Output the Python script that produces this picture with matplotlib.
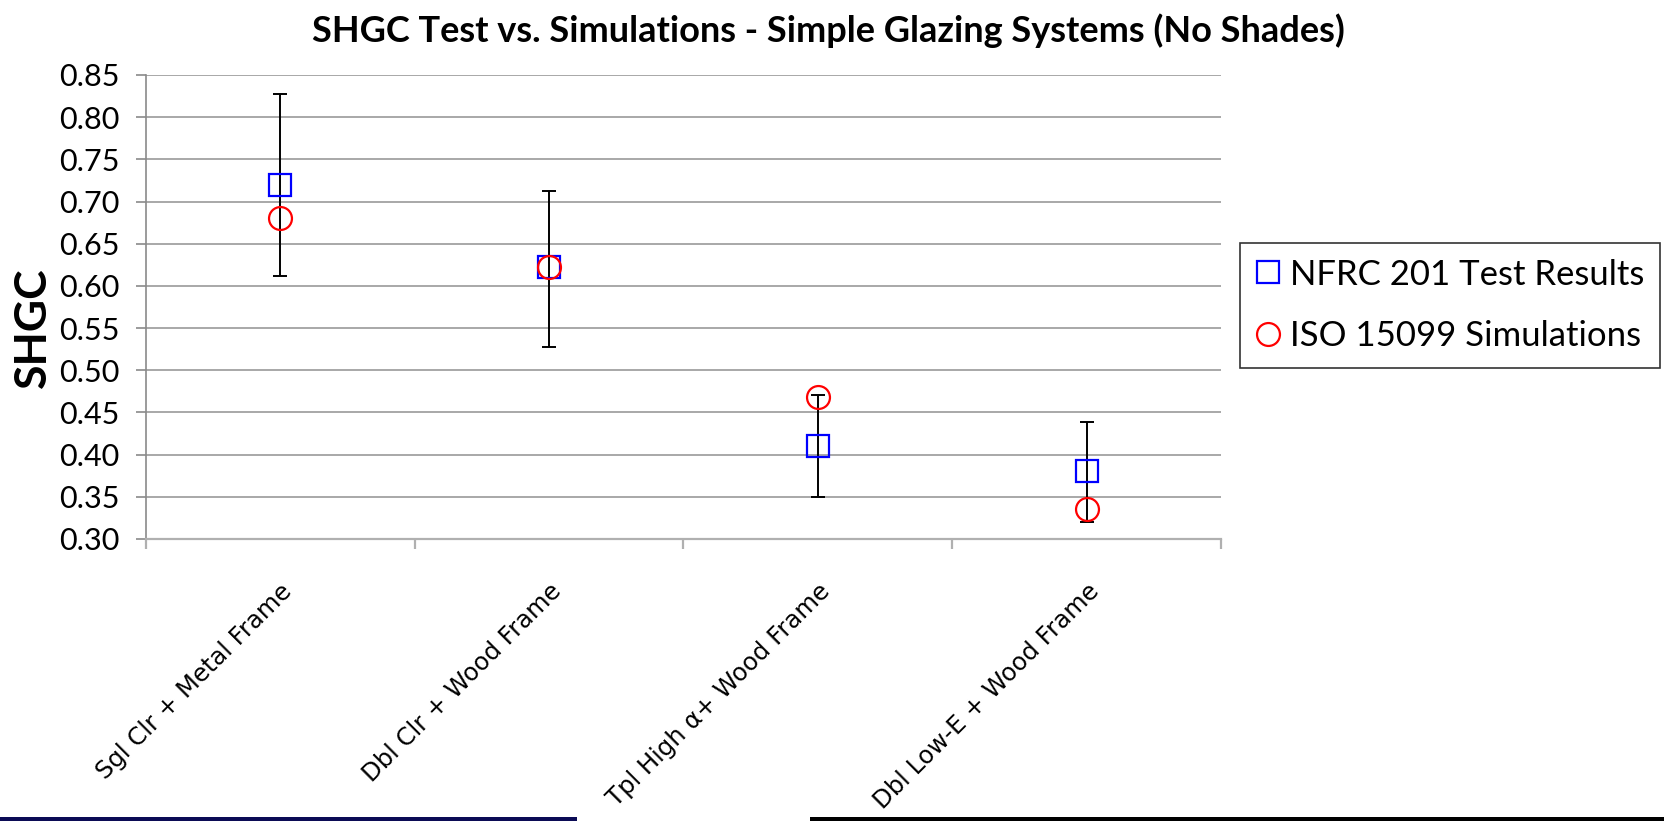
import matplotlib.pyplot as plt
from matplotlib.patches import Rectangle
from matplotlib.ticker import MultipleLocator, FixedLocator

# данные
categories = ["Sgl Clr + Metal Frame", "Dbl Clr + Wood Frame",
              "Tpl High \u03b1+ Wood Frame", "Dbl Low-E + Wood Frame"]
nfrc = [0.720, 0.622, 0.410, 0.381]
nfrc_low = [0.612, 0.527, 0.350, 0.320]
nfrc_high = [0.828, 0.713, 0.471, 0.439]
iso = [0.680, 0.622, 0.468, 0.335]

title = "SHGC Test vs. Simulations - Simple Glazing Systems (No Shades)"
W, H = 1665, 821

fig = plt.figure(figsize=(W / 100, H / 100), dpi=100)
ax = fig.add_axes([145.7 / W, 1 - 539 / H, (1221 - 145.7) / W, (539 - 75) / H])

x = list(range(len(categories)))
yerr = [[v - lo for v, lo in zip(nfrc, nfrc_low)],
        [hi - v for v, hi in zip(nfrc, nfrc_high)]]

ax.errorbar(x, nfrc, yerr=yerr, fmt="none", ecolor="black", elinewidth=1.4,
            capsize=5, capthick=1.4, zorder=3)
ax.plot(x, nfrc, ls="none", marker="s", ms=15.5, mfc="none", mec="#0000ff",
        mew=1.6, label="NFRC 201 Test Results", zorder=4)
ax.plot(x, iso, ls="none", marker="o", ms=16.5, mfc="none", mec="#ff0000",
        mew=1.6, label="ISO 15099 Simulations", zorder=4)

ax.set_xlim(-0.5, len(categories) - 0.5)
ax.set_ylim(0.30, 0.85)
ax.yaxis.set_major_locator(MultipleLocator(0.05))
ax.yaxis.set_major_formatter(plt.FormatStrFormatter("%.2f"))
ax.grid(axis="y", color="#9a9a9a", linewidth=1.2)
ax.set_axisbelow(True)

for s in ["top", "right"]:
    ax.spines[s].set_visible(False)
ax.spines["left"].set_color("#8a8a8a")
ax.spines["bottom"].set_color("#b0b0b0")
ax.spines["left"].set_linewidth(1.2)
ax.spines["bottom"].set_linewidth(1.6)

ax.tick_params(axis="y", length=7, width=1.2, color="#8a8a8a", pad=12,
               labelsize=22)
for t in ax.get_yticklabels():
    t.set_family("Lato")

ax.set_xticks(x)
ax.set_xticklabels(categories, rotation=45, ha="right", va="top",
                   rotation_mode="anchor", family="Liberation Sans Narrow",
                   fontsize=17.5)
ax.tick_params(axis="x", length=0, pad=29)
ax.xaxis.set_minor_locator(FixedLocator([i - 0.5 for i in range(len(categories) + 1)]))
ax.tick_params(axis="x", which="minor", length=7, width=1.6, color="#b0b0b0")

fig.text(828 / W, 1 - 42 / H, title, ha="center", va="baseline",
         fontsize=26, weight="bold", family="Lato")
fig.text(33 / W, 1 - 328 / H, "SHGC", rotation=90, ha="center", va="center",
         fontsize=32, weight="bold", family="Lato")

leg = ax.legend(loc="upper left", bbox_to_anchor=(1240 / W, 1 - 243 / H),
                bbox_transform=fig.transFigure, numpoints=1, handlelength=0.7,
                handletextpad=0.3, fancybox=False, edgecolor="black",
                prop={"family": "Lato", "size": 25}, borderpad=0.45,
                labelspacing=0.85, borderaxespad=0)
leg.get_frame().set_linewidth(1.2)

# смуги внизу слайду
fig.add_artist(Rectangle((0, 0), 577 / W, 4 / H, transform=fig.transFigure,
                         color="#0b0b55", lw=0))
fig.add_artist(Rectangle((810 / W, 0), 1 - 810 / W, 4 / H,
                         transform=fig.transFigure, color="black", lw=0))

fig.savefig("out.png", dpi=100)
